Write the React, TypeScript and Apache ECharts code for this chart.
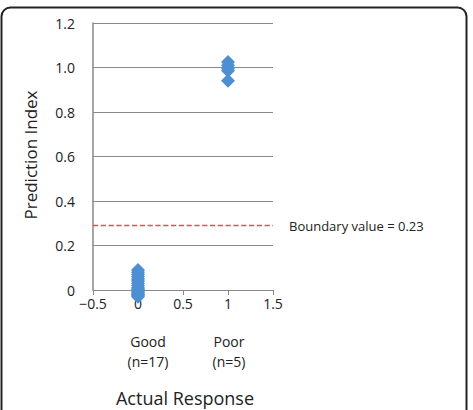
import React, { useEffect, useRef } from "react";
import * as echarts from "echarts";

const goodX = 0;
const poorX = 1;
const goodValues = [0.09, 0.08, 0.07, 0.06, 0.05, 0.04, 0.03, 0.02, 0.01, 0.005, 0, -0.005, -0.01, -0.015, -0.02, -0.025, -0.03];
const poorValues = [1.025, 1.01, 0.995, 0.985, 0.94];
const boundaryValue = 0.29;
const boundaryLabel = "Boundary value = 0.23";
const xTickLabels = ["Good\n(n=17)", "Poor\n(n=5)"];
const xTitle = "Actual Response";
const yTitle = "Prediction Index";

export default function App() {
  const ref = useRef<HTMLDivElement>(null);
  useEffect(() => {
    const chart = echarts.init(ref.current!, null, { renderer: "svg" });
    const font = "'Open Sans', 'Liberation Sans', sans-serif";
    const pts = [
      ...goodValues.map((v) => [goodX, v]),
      ...poorValues.map((v) => [poorX, v]),
    ];
    chart.setOption({
      animation: false,
      grid: { left: 93, right: 200, top: 23, bottom: 120 },
      xAxis: {
        type: "value",
        min: -0.5,
        max: 1.5,
        interval: 0.5,
        axisLine: { show: true, onZero: false, lineStyle: { color: "#888", width: 1 } },
        axisTick: { show: true, length: 5, lineStyle: { color: "#888" } },
        splitLine: { show: false },
        axisLabel: {
          color: "#222",
          fontSize: 14,
          fontFamily: font,
          margin: 6,
          formatter: (v: number) => (v < 0 ? "\u2212" + Math.abs(v) : String(v)),
        },
      },
      yAxis: {
        type: "value",
        min: 0,
        max: 1.2,
        interval: 0.2,
        axisLine: { show: true, onZero: false, lineStyle: { color: "#888", width: 1.5 } },
        axisTick: { show: false },
        splitLine: { show: true, lineStyle: { color: "#8a8a8a", width: 1 } },
        axisLabel: {
          color: "#222",
          fontSize: 14,
          fontFamily: font,
          margin: 18,
          formatter: (v: number) => (v === 0 ? "0" : v.toFixed(1)),
        },
      },
      series: [
        {
          type: "line",
          data: [
            [-0.5, boundaryValue],
            [1.5, boundaryValue],
          ],
          symbol: "none",
          silent: true,
          color: "#f04848",
          itemStyle: { color: "#f04848" },
          lineStyle: { color: "#f04848", type: "dashed", width: 1.3, opacity: 1 },
          z: 3,
        },
        {
          type: "scatter",
          data: pts,
          symbol: "diamond",
          symbolSize: 14,
          clip: false,
          itemStyle: { color: "#4e8fd4", opacity: 1 },
          z: 5,
        },
      ],
      graphic: [
        {
          type: "rect",
          shape: { x: 1.5, y: 7.5, width: 465, height: 430, r: 9 },
          style: { fill: "none", stroke: "#222", lineWidth: 2 },
          silent: true,
        },
        {
          type: "text",
          x: 289,
          y: 226,
          style: { text: boundaryLabel, fontSize: 13, fontFamily: font, fill: "#222", verticalAlign: "middle" },
        },
        {
          type: "text",
          x: 148,
          y: 351,
          style: { text: xTickLabels[0], fontSize: 14, fontFamily: font, fill: "#222", align: "center", verticalAlign: "middle", lineHeight: 20 },
        },
        {
          type: "text",
          x: 229,
          y: 351,
          style: { text: xTickLabels[1], fontSize: 14, fontFamily: font, fill: "#222", align: "center", verticalAlign: "middle", lineHeight: 20 },
        },
        {
          type: "text",
          x: 185,
          y: 398,
          style: { text: xTitle, fontSize: 18, fontFamily: font, fill: "#222", align: "center", verticalAlign: "middle" },
        },
        {
          type: "text",
          x: 30,
          y: 155,
          rotation: Math.PI / 2,
          style: { text: yTitle, fontSize: 17, fontFamily: font, fill: "#222", align: "center", verticalAlign: "middle" },
        },
      ],
    });
    return () => chart.dispose();
  }, []);
  return (
    <div
      ref={ref}
      style={{ position: "fixed", left: 0, top: 0, width: 473, height: 410, background: "#fff" }}
    />
  );
}
